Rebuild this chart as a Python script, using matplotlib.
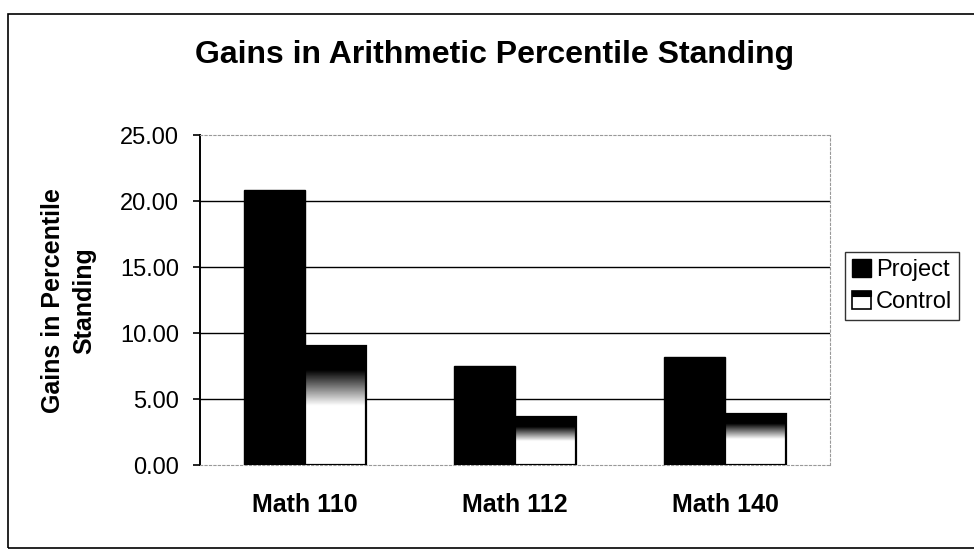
import numpy as np
import matplotlib
matplotlib.use('Agg')
import matplotlib.pyplot as plt
from matplotlib.patches import Rectangle
from matplotlib.legend_handler import HandlerBase

plt.rcParams['font.family'] = ['Liberation Sans', 'DejaVu Sans']

courses = ['Math 110', 'Math 112', 'Math 140']
project = [20.8, 7.5, 8.2]
control = [9.0, 3.6, 3.9]
yticks = [0, 5, 10, 15, 20, 25]

fig = plt.figure(figsize=(9.74, 5.52), dpi=100)
ax = fig.add_axes([200/974, 87/552, 630/974, 330/552])

# outer chart frame (scanned page border)
fig.patches.append(Rectangle((8/974, 4/552), 1.2, 534/552, transform=fig.transFigure,
                             fill=False, edgecolor='black', linewidth=1.2))

w = 0.29
x = np.arange(len(courses))

# Control bars: black on top, fading down to white
t = np.linspace(0, 1, 200)
grad = np.clip((t - 0.2) / 0.3, 0, 1)[:, None]

for i in range(len(courses)):
    ax.bar(x[i] - w/2, project[i], w, color='black', edgecolor='black', linewidth=1, zorder=3)
    x0 = x[i]
    ax.imshow(grad, cmap='gray', vmin=0, vmax=1, aspect='auto', origin='upper',
              extent=(x0, x0 + w, 0, control[i]), zorder=3, interpolation='bilinear')
    ax.add_patch(Rectangle((x0, 0), w, control[i], fill=False, edgecolor='black',
                           linewidth=1.6, zorder=4))

ax.set_xlim(-0.5, 2.5)
ax.set_ylim(0, 25)
ax.set_aspect('auto')

for v in yticks[1:-1]:
    ax.axhline(v, color='black', linewidth=1, zorder=1)

ax.set_yticks(yticks)
ax.set_yticklabels(['%.2f' % v for v in yticks], fontsize=17)
ax.tick_params(axis='y', length=5, width=1.2, direction='out', pad=10)
ax.set_xticks(x)
ax.set_xticklabels(courses, fontsize=18, fontweight='bold')
ax.tick_params(axis='x', length=0, pad=20)

ax.spines['left'].set_linewidth(1.4)
for s in ['top', 'right', 'bottom']:
    ax.spines[s].set_color('#999999')
    ax.spines[s].set_linestyle((0, (2, 2)))
    ax.spines[s].set_linewidth(0.8)

ax.set_ylabel('Gains in Percentile\nStanding', fontsize=18, fontweight='bold', linespacing=1.35)
ax.yaxis.set_label_coords(-0.165, 0.497)

fig.text(0.508, 0.9, 'Gains in Arithmetic Percentile Standing', fontsize=23,
         fontweight='bold', ha='center', va='center')


class ControlHandler(HandlerBase):
    def create_artists(self, legend, orig_handle, xdescent, ydescent, width, height, fontsize, trans):
        box = Rectangle((-xdescent, -ydescent), width, height, facecolor='white',
                        edgecolor='black', linewidth=1.2, transform=trans)
        top = Rectangle((-xdescent, -ydescent + height*0.72), width, height*0.28,
                        facecolor='black', edgecolor='black', linewidth=0.8, transform=trans)
        return [box, top]


h1 = Rectangle((0, 0), 1, 1, facecolor='black', edgecolor='black')
h2 = Rectangle((0, 0), 1, 1, facecolor='white', edgecolor='black')
leg = fig.legend([h1, h2], ['Project', 'Control'], loc='upper left',
                 bbox_to_anchor=(845/974, 1 - 252/552), fontsize=17, frameon=True,
                 fancybox=False, handlelength=0.8, handleheight=0.8, handletextpad=0.2,
                 borderpad=0.3, labelspacing=0.4, borderaxespad=0,
                 handler_map={h2: ControlHandler()})
leg.get_frame().set_edgecolor('black')
leg.get_frame().set_linewidth(1.0)

fig.savefig('out.png', dpi=100)
